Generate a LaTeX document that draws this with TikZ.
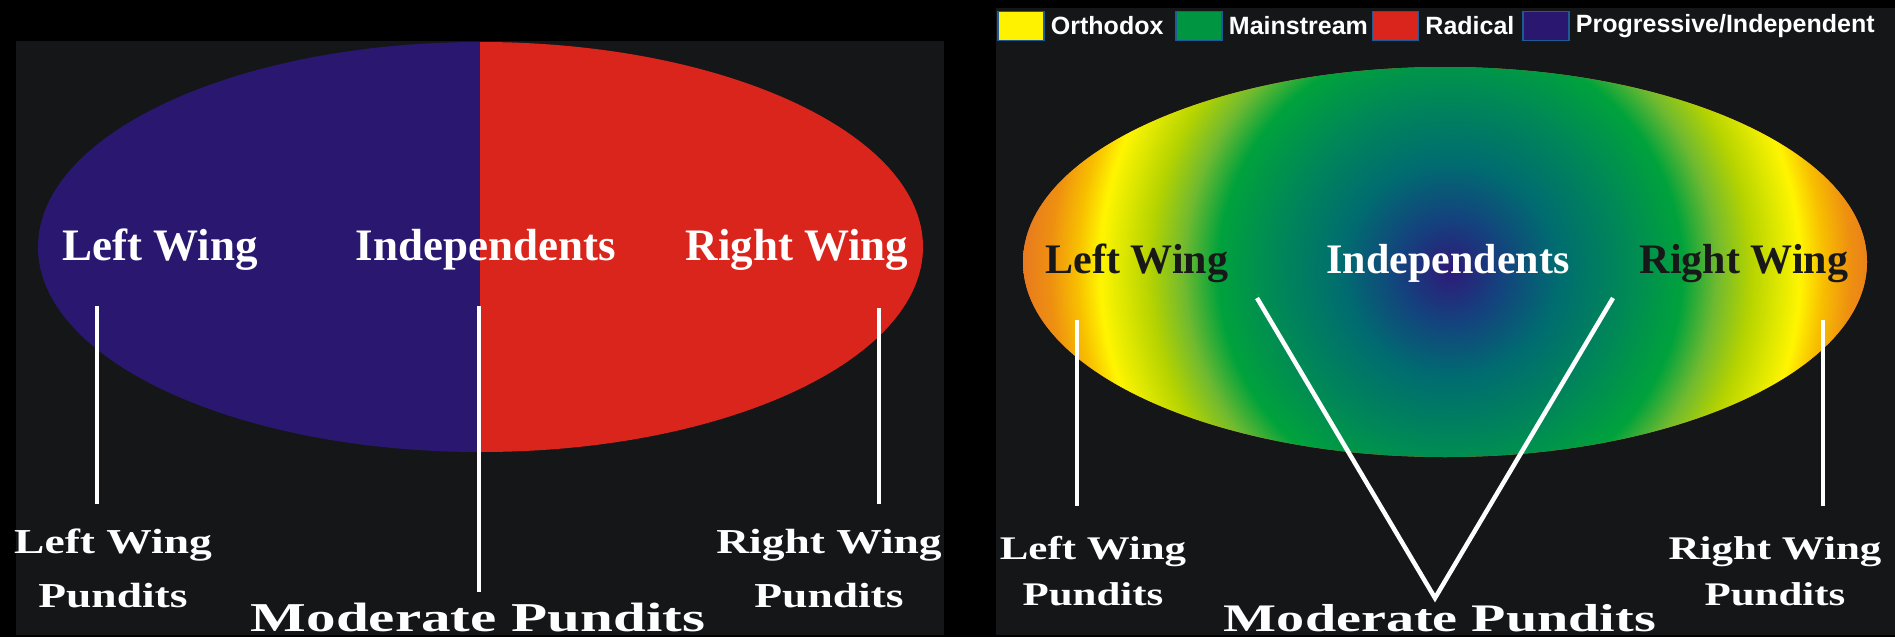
\documentclass[tikz,border=0pt]{standalone}
\usepackage{fontspec}
\setmainfont{Liberation Serif}
\newfontfamily\legendfont{Liberation Sans}
\newfontfamily\widefont[FakeStretch=1.3]{Liberation Serif}
\newfontfamily\widerfont[FakeStretch=1.44]{Liberation Serif}
\usepackage{tikz}
\usetikzlibrary{positioning}
\definecolor{orthodox}{RGB}{255, 242, 0}
\definecolor{mainstream}{RGB}{0, 149, 64}
\definecolor{radical}{RGB}{218, 37, 29}
\definecolor{progressive}{RGB}{42, 24, 112}
\definecolor{panel}{RGB}{21, 22, 24}
\definecolor{legendedge}{RGB}{30, 90, 150}
\definecolor{darktext}{RGB}{24, 24, 24}
% colours of the spectrum, from the centre out
\definecolor{spec0}{RGB}{46, 26, 120}
\definecolor{spec1}{RGB}{20, 66, 126}
\definecolor{spec2}{RGB}{0, 108, 112}
\definecolor{spec3}{RGB}{0, 135, 88}
\definecolor{spec4}{RGB}{0, 162, 60}
\definecolor{spec5}{RGB}{112, 186, 48}
\definecolor{spec6}{RGB}{181, 211, 0}
\definecolor{spec7}{RGB}{224, 232, 0}
\definecolor{spec8}{RGB}{255, 245, 0}
\definecolor{spec9}{RGB}{248, 192, 0}
\definecolor{spec10}{RGB}{238, 144, 16}
\definecolor{spec11}{RGB}{232, 122, 32}
\pgfdeclareradialshading{spectrum}{\pgfpoint{0bp}{0bp}}{color(0bp)=(spec0); color(3bp)=(spec1); color(6.3bp)=(spec2); color(10.1bp)=(spec3); color(13.6bp)=(spec4); color(15.6bp)=(spec5); color(17.6bp)=(spec6); color(19.3bp)=(spec7); color(20.5bp)=(spec8); color(21.8bp)=(spec9); color(23.4bp)=(spec10); color(25bp)=(spec11); color(50bp)=(spec11)}

\begin{document}
\begin{tikzpicture}[
    x=1pt, y=-1pt,
    leg_box/.style={rectangle, draw=legendedge, line width=1.5pt, minimum width=46pt, minimum height=29pt, inner sep=0pt},
    leg_text/.style={text=white, font=\legendfont\bfseries\fontsize{25}{30}\selectfont, inner sep=0pt},
    wing/.style={font=\bfseries\fontsize{45}{54}\selectfont, inner sep=0pt, anchor=base},
    wing_small/.style={font=\bfseries\fontsize{42}{50}\selectfont, inner sep=0pt, anchor=base},
    pundit/.style={text=white, align=center, font=\widefont\bfseries\fontsize{35}{54}\selectfont, inner sep=0pt, anchor=base},
    pundit_small/.style={text=white, align=center, font=\widefont\bfseries\fontsize{33}{46}\selectfont, inner sep=0pt, anchor=base},
    moderate/.style={text=white, font=\widerfont\bfseries\fontsize{41}{48}\selectfont, inner sep=0pt, anchor=base},
    pointer/.style={draw=white, line width=4.5pt}
]
    \useasboundingbox (0,0) rectangle (1895,637);
    \fill[black] (0,0) rectangle (1895,637);
    \fill[panel] (16,41) rectangle (944,635);
    \fill[panel] (996,8) rectangle (1895,635);

    % left: two halves
    \begin{scope}
        \clip (480.5,247) ellipse [x radius=442.5, y radius=205];
        \fill[progressive] (30,30) rectangle (480,470);
        \fill[radical] (480,30) rectangle (930,470);
    \end{scope}

    \node[wing, text=white] (left) at (160,260) {Left Wing};
    \node[wing, text=white] (indep) at (486,260) {Independents};
    \node[wing, text=white] (right) at (797,260) {Right Wing};

    \coordinate (left_top) at (97,306);
    \coordinate (left_end) at (97,504);
    \coordinate (mid_top) at (479,306);
    \coordinate (mid_end) at (479,592);
    \coordinate (right_top) at (879,308);
    \coordinate (right_end) at (879,504);
    \draw[pointer] (left_top) -- (left_end);
    \draw[pointer] (mid_top) -- (mid_end);
    \draw[pointer] (right_top) -- (right_end);

    \node[pundit] (left_pundits) at (113,607) {Left Wing\\Pundits};
    \node[pundit] (right_pundits) at (829,607) {Right Wing\\Pundits};
    \node[moderate] (moderates) at (478,631) {Moderate Pundits};

    % legend
    \node[leg_box, fill=orthodox] (ortho) at (1021,26) {};
    \node[leg_text, right=6pt of ortho] (ortho_text) {Orthodox};
    \node[leg_box, fill=mainstream] (main) at (1199,26) {};
    \node[leg_text, right=6pt of main] (main_text) {Mainstream};
    \node[leg_box, fill=radical] (rad) at (1395.5,26) {};
    \node[leg_text, right=6pt of rad] (rad_text) {Radical};
    \node[leg_box, fill=progressive] (prog) at (1546,26) {};
    \node[leg_text, right=6pt of prog] (prog_text) {Progressive/Independent};

    % right: spectrum
    \begin{scope}
        \clip (1445,262) ellipse [x radius=422, y radius=195];
        \fill[spec11] (1000,60) rectangle (1890,470);
        \shade[shading=spectrum] (1450,270) circle [radius=427];
    \end{scope}

    \node[wing_small, text=darktext] (left2) at (1137,273) {Left Wing};
    \node[wing_small, text=white] (indep2) at (1448,273) {Independents};
    \node[wing_small, text=darktext] (right2) at (1744,273) {Right Wing};

    \coordinate (left2_top) at (1077,320);
    \coordinate (left2_end) at (1077,506);
    \coordinate (right2_top) at (1823,320);
    \coordinate (right2_end) at (1823,506);
    \coordinate (vee_left) at (1257,298);
    \coordinate (vee_right) at (1613,298);
    \coordinate (apex) at (1435,598);
    \draw[pointer] (left2_top) -- (left2_end);
    \draw[pointer] (right2_top) -- (right2_end);
    \draw[pointer, line join=miter] (vee_left) -- (apex) -- (vee_right);

    \node[pundit_small] (left2_pundits) at (1093,605) {Left Wing\\Pundits};
    \node[pundit_small] (right2_pundits) at (1775,605) {Right Wing\\Pundits};
    \node[moderate, font=\widerfont\bfseries\fontsize{39}{46}\selectfont] (moderates2) at (1440,631) {Moderate Pundits};
\end{tikzpicture}
\end{document}
